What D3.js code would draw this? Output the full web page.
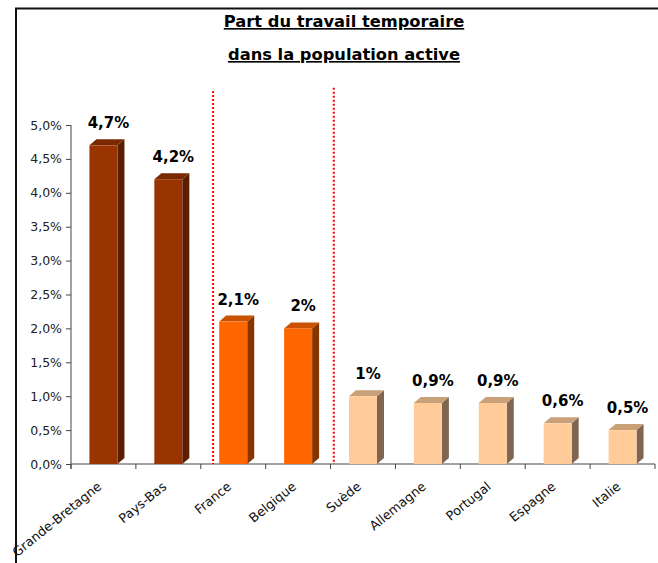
<!DOCTYPE html>
<html><head><meta charset="utf-8">
<script src="https://cdn.jsdelivr.net/npm/d3@7"></script>
<style>
html,body{margin:0;padding:0;background:#fff;}
svg{display:block;}
</style></head>
<body>
<script>
const categories = ["Grande-Bretagne","Pays-Bas","France","Belgique","Suède","Allemagne","Portugal","Espagne","Italie"];
const values = [4.7, 4.2, 2.1, 2.0, 1.0, 0.9, 0.9, 0.6, 0.5];
const valueLabels = ["4,7%","4,2%","2,1%","2%","1%","0,9%","0,9%","0,6%","0,5%"];
const groups = [0, 0, 1, 1, 2, 2, 2, 2, 2];
const yTicks = [0, 0.5, 1, 1.5, 2, 2.5, 3, 3.5, 4, 4.5, 5];
const separators = [2.19, 4.05];      // in category-index units
const separatorTops = [5.5, 5.55];    // in value units
const titleLines = ["Part du travail temporaire", "dans la population active"];

const palette = [
  {front:"#993300", top:"#7a2900", side:"#5a1d00"},
  {front:"#ff6600", top:"#c95100", side:"#863500"},
  {front:"#ffcc99", top:"#c9a078", side:"#806650"}
];

const W = 658, H = 563;
const svg = d3.select("body").append("svg").attr("width", W).attr("height", H);

// frame
svg.append("rect").attr("x", 16).attr("y", 8.5).attr("width", 700).attr("height", 700)
  .attr("fill", "none").attr("stroke", "#111").attr("stroke-width", 2);

// title
svg.selectAll("text.title").data(titleLines).join("text")
  .attr("class","title")
  .attr("x", 344).attr("y", (d,i) => 27 + i*33)
  .attr("text-anchor","middle")
  .attr("font-family","DejaVu Sans, Verdana, sans-serif")
  .attr("font-weight","bold").attr("font-size", 16.3)
  .attr("text-decoration","underline")
  .attr("fill","#000")
  .text(d => d);

const x = d3.scaleBand().domain(categories).range([71, 655]).paddingInner(0).paddingOuter(0);
const xi = d3.scaleLinear().domain([0, categories.length]).range([71, 655]);
const y = d3.scaleLinear().domain([0, 5]).range([464, 125]);

// y axis
const yAxis = d3.axisLeft(y).tickValues(yTicks).tickSize(5).tickPadding(4)
  .tickFormat(d => d3.format(".1f")(d).replace(".", ",") + "%");
const ya = svg.append("g").attr("transform","translate(71,0)").call(yAxis);
ya.select(".domain").attr("d", `M0,${y(5)}V${y(0)+5}`).attr("stroke","#444");
ya.selectAll(".tick line").attr("stroke","#444");
ya.selectAll(".tick text").attr("font-family","DejaVu Sans, Verdana, sans-serif")
  .attr("font-size", 12.5).attr("fill","#222");

// x axis line and boundary ticks
svg.append("line").attr("x1", 71).attr("x2", 655).attr("y1", y(0)).attr("y2", y(0))
  .attr("stroke","#444");
svg.selectAll("line.xt").data(d3.range(categories.length + 1)).join("line")
  .attr("class","xt")
  .attr("x1", d => xi(d)).attr("x2", d => xi(d))
  .attr("y1", y(0)).attr("y2", y(0) + 5).attr("stroke","#444");

// separators
svg.selectAll("line.sep").data(separators).join("line")
  .attr("class","sep")
  .attr("x1", d => xi(d)).attr("x2", d => xi(d))
  .attr("y1", (d,i) => y(separatorTops[i])).attr("y2", y(0))
  .attr("stroke","#ff0000").attr("stroke-width", 2).attr("stroke-dasharray","2,2");

// bars
const bw = 28, dx = 7, dy = 6;
const bars = svg.selectAll("g.bar").data(categories.map((c,i) => ({c, v: values[i], g: groups[i], l: valueLabels[i]})))
  .join("g").attr("class","bar");
bars.each(function(d){
  const g = d3.select(this);
  const x0 = x(d.c) + (x.bandwidth() - bw) / 2, x1 = x0 + bw;
  const yt = y(d.v), yb = y(0);
  const col = palette[d.g];
  g.append("path").attr("d", `M${x1},${yb}L${x1},${yt}L${x1+dx},${yt-dy}L${x1+dx},${yb-dy}Z`).attr("fill", col.side);
  g.append("path").attr("d", `M${x0},${yt}L${x0+dx},${yt-dy}L${x1+dx},${yt-dy}L${x1},${yt}Z`).attr("fill", col.top);
  g.append("rect").attr("x", x0).attr("y", yt).attr("width", bw).attr("height", yb - yt).attr("fill", col.front);
  g.append("text").attr("x", x0 + bw/2 + 5).attr("y", yt - 17)
    .attr("text-anchor","middle")
    .attr("font-family","DejaVu Sans, Verdana, sans-serif")
    .attr("font-weight","bold").attr("font-size", 15).attr("fill","#000")
    .text(d.l);
});

// x labels
svg.selectAll("text.xl").data(categories).join("text")
  .attr("class","xl")
  .attr("transform", d => `translate(${x(d) + x.bandwidth()/2 - 1},${y(0) + 24}) rotate(-39)`)
  .attr("text-anchor","end")
  .attr("font-family","DejaVu Sans, Verdana, sans-serif")
  .attr("font-size", 12.8).attr("fill","#111")
  .text(d => d);
</script>
</body></html>
